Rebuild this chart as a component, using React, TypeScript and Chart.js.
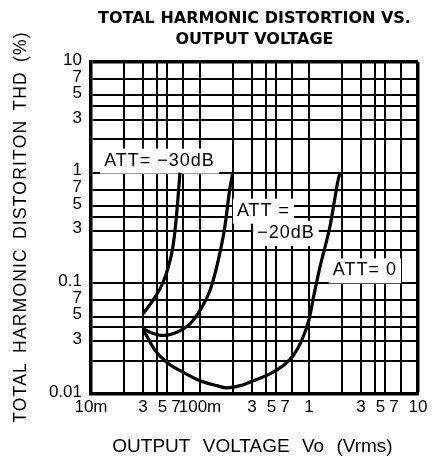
import React, { useEffect, useRef } from 'react';
import { Chart, registerables } from 'chart.js';

Chart.register(...registerables);

// Output voltage Vo (Vrms) and THD (%)
const att30Vo = [0.0302, 0.0387, 0.046, 0.0512, 0.0564, 0.0603, 0.0633, 0.0655];
const att30Thd = [0.0533, 0.0751, 0.1028, 0.1406, 0.2135, 0.371, 0.649, 1.0];

const att20Vo = [0.0302, 0.0348, 0.046, 0.0611, 0.0809, 0.1, 0.1237, 0.147, 0.169, 0.188, 0.2];
const att20Thd = [0.0389, 0.0362, 0.0338, 0.0362, 0.0431, 0.057, 0.0865, 0.161, 0.324, 0.72, 1.0];

const att0Vo = [0.0302, 0.0387, 0.0494, 0.0703, 0.1, 0.1422, 0.176, 0.233, 0.308, 0.438, 0.581, 0.718, 0.857, 1.0, 1.1, 1.26, 1.56, 1.86, 1.93];
const att0Thd = [0.038, 0.0248, 0.0194, 0.0157, 0.0132, 0.0119, 0.01137, 0.0119, 0.0132, 0.0152, 0.0181, 0.0223, 0.0305, 0.047, 0.075, 0.14, 0.33, 0.88, 1.0];

// Axis ticks
const xTickValues = [0.01, 0.02, 0.03, 0.04, 0.05, 0.07, 0.1, 0.2, 0.3, 0.4, 0.5, 0.7, 1, 2, 3, 4, 5, 7, 10];
const xTickLabels = ['10m', '', '3', '', '5  ', '7   ', '100m', '', '3', '', '5  ', '7   ', '1', '', '3', '', '5  ', '7   ', '10'];
const yTickValues = [0.01, 0.02, 0.03, 0.04, 0.05, 0.07, 0.1, 0.2, 0.3, 0.4, 0.5, 0.7, 1, 2, 3, 4, 5, 7, 10];
const yTickLabels = ['0.01', '', '3', '', '5', '7', '0.1', '', '3', '', '5', '7', '1', '', '3', '', '5', '7', '10'];

// Curve labels
const annotationLabels = ['ATT= \u221230dB', 'ATT =', '\u221220dB', 'ATT= 0'];
const annotationVo = [0.0425, 0.3825, 0.615, 3.26];
const annotationThd = [1.285, 0.453, 0.286, 0.131];

const titleLines = ['TOTAL HARMONIC DISTORTION VS.', 'OUTPUT VOLTAGE'];
const xTitle = 'OUTPUT VOLTAGE Vo (Vrms)';
const yTitle = 'TOTAL HARMONIC DISTORITON THD (%)';

const SANS = '"Liberation Sans", Arial, Helvetica, sans-serif';

const overlayPlugin = {
  id: 'overlay',
  beforeDatasetsDraw(chart: any) {
    const { ctx, scales } = chart;
    const xs = scales.x;
    const ys = scales.y;
    ctx.save();
    ctx.font = `18px ${SANS}`;
    (ctx as any).letterSpacing = '1px';
    ctx.textAlign = 'center';
    ctx.textBaseline = 'middle';
    annotationLabels.forEach((t, i) => {
      const px = xs.getPixelForValue(annotationVo[i]);
      const py = ys.getPixelForValue(annotationThd[i]);
      const w = ctx.measureText(t).width;
      ctx.fillStyle = '#fff';
      ctx.fillRect(px - w / 2 - 4, py - 12, w + 8, 25);
      ctx.fillStyle = '#000';
      ctx.fillText(t, px, py);
    });
    ctx.restore();
  },
  afterDraw(chart: any) {
    const { ctx, chartArea } = chart;
    ctx.save();
    ctx.fillStyle = '#000';
    ctx.textAlign = 'center';
    ctx.textBaseline = 'middle';
    // y title
    ctx.font = `17.5px ${SANS}`;
    (ctx as any).letterSpacing = '1.2px';
    (ctx as any).wordSpacing = '3px';
    ctx.save();
    ctx.translate(21, (chartArea.top + chartArea.bottom) / 2 - 1);
    ctx.rotate(-Math.PI / 2);
    ctx.fillText(yTitle, 0, 0);
    ctx.restore();
    // x title
    ctx.font = `19px ${SANS}`;
    (ctx as any).letterSpacing = '0px';
    (ctx as any).wordSpacing = '7px';
    ctx.fillText(xTitle, (chartArea.left + chartArea.right) / 2 - 2, chartArea.bottom + 52.5);
    ctx.restore();
  },
};

export default function App() {
  const ref = useRef<HTMLCanvasElement>(null);
  useEffect(() => {
    if (!ref.current) return;
    const mk = (xs: number[], ys: number[]) => xs.map((v, i) => ({ x: v, y: ys[i] }));
    const lineStyle = {
      borderColor: '#000',
      backgroundColor: '#000',
      borderWidth: 3.2,
      pointRadius: 0,
      fill: false,
      cubicInterpolationMode: 'monotone' as const,
    };
    const edgeWidth = (c: any) => (c.tick && c.tick.value === 10 ? 3.5 : 2);
    const chart = new Chart(ref.current, {
      type: 'line',
      data: {
        datasets: [
          { label: 'ATT=-30dB', data: mk(att30Vo, att30Thd), ...lineStyle },
          { label: 'ATT=-20dB', data: mk(att20Vo, att20Thd), ...lineStyle },
          { label: 'ATT=0', data: mk(att0Vo, att0Thd), ...lineStyle },
        ],
      },
      options: {
        animation: false,
        responsive: false,
        maintainAspectRatio: false,
        devicePixelRatio: 1,
        layout: { padding: { left: 0, right: 14, top: 0, bottom: 0 } },
        plugins: {
          legend: { display: false },
          tooltip: { enabled: false },
          title: {
            display: true,
            fullSize: false,
            text: titleLines,
            color: '#000',
            font: { family: '"DejaVu Sans", sans-serif', size: 16, weight: 'bold', lineHeight: 1.3125 },
            padding: { top: 8.5, bottom: 11.5 },
          },
        },
        scales: {
          x: {
            type: 'logarithmic',
            min: 0.01,
            max: 10,
            afterBuildTicks: (s: any) => {
              s.ticks = xTickValues.map((v) => ({ value: v }));
            },
            afterFit: (s: any) => {
              s.height = 65;
            },
            ticks: {
              autoSkip: false,
              maxRotation: 0,
              minRotation: 0,
              padding: 3,
              color: '#000',
              font: { family: SANS, size: 17 },
              callback: (_v: any, i: number) => xTickLabels[i],
            },
            grid: { color: '#000', lineWidth: edgeWidth, drawTicks: false },
            border: { display: true, color: '#000', width: 3.5 },
          },
          y: {
            type: 'logarithmic',
            min: 0.01,
            max: 10,
            afterBuildTicks: (s: any) => {
              s.ticks = yTickValues.map((v) => ({ value: v }));
            },
            afterFit: (s: any) => {
              s.width = 91;
            },
            ticks: {
              autoSkip: false,
              padding: 9,
              labelOffset: -2,
              color: '#000',
              font: { family: SANS, size: 17 },
              callback: (_v: any, i: number) => yTickLabels[i],
            },
            grid: { color: '#000', lineWidth: edgeWidth, drawTicks: false },
            border: { display: true, color: '#000', width: 3.5 },
          },
        },
      } as any,
      plugins: [overlayPlugin],
    });
    return () => chart.destroy();
  }, []);
  return (
    <div style={{ position: 'absolute', left: 0, top: 0, width: 432, height: 459, background: '#fff' }}>
      <canvas ref={ref} width={432} height={459} style={{ display: 'block' }} />
    </div>
  );
}
